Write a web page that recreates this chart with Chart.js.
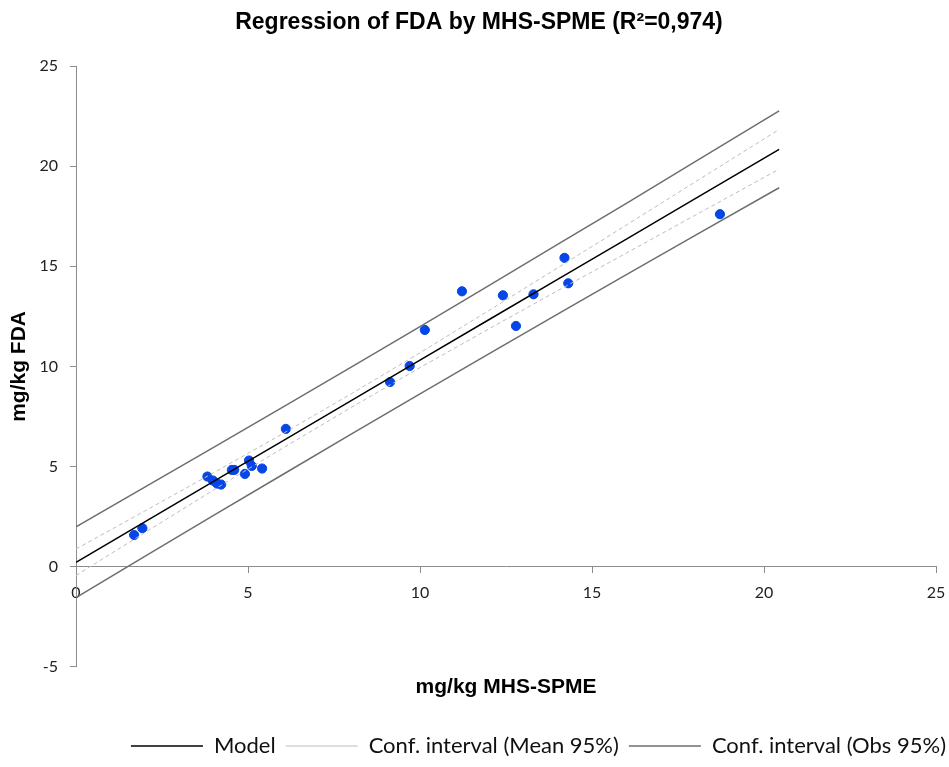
<!DOCTYPE html>
<html>
<head>
<meta charset="utf-8">
<script src="https://cdn.jsdelivr.net/npm/chart.js@4"></script>
<style>
  body { margin: 0; background: #fff; }
  #wrap { width: 949px; height: 767px; }
</style>
</head>
<body>
<div id="wrap"><canvas id="regChart"></canvas></div>
<script>
// observations (mg/kg MHS-SPME vs mg/kg FDA)
const obsX = [1.69, 1.93, 3.82, 3.98, 4.1, 4.22, 4.53, 4.6, 4.91, 5.03, 5.11, 5.41, 6.1,
              9.13, 9.7, 10.14, 11.22, 12.41, 12.79, 13.3, 14.2, 14.31, 18.72];
const obsY = [1.58, 1.92, 4.5, 4.3, 4.15, 4.1, 4.83, 4.83, 4.63, 5.3, 5.03, 4.9, 6.88,
              9.22, 10.02, 11.82, 13.75, 13.55, 12.02, 13.6, 15.42, 14.15, 17.6];

// model line and confidence bands, read at these x positions
const bandX   = [0, 2, 4, 6, 8, 10, 12, 14, 16, 18, 20.44];
const model   = [0.22, 2.24, 4.26, 6.27, 8.29, 10.31, 12.33, 14.35, 16.36, 18.38, 20.84];
const meanUp  = [0.88, 2.78, 4.69, 6.63, 8.63, 10.68, 12.79, 14.92, 17.06, 19.21, 21.83];
const meanLo  = [-0.44, 1.70, 3.83, 5.91, 7.95, 9.94, 11.87, 13.78, 15.66, 17.55, 19.85];
const obsUp   = [1.99, 3.97, 5.96, 7.95, 9.96, 11.99, 14.03, 16.09, 18.14, 20.22, 22.76];
const obsLo   = [-1.55, 0.51, 2.56, 4.59, 6.62, 8.63, 10.63, 12.61, 14.58, 16.54, 18.92];

const xTicks = [0, 5, 10, 15, 20, 25];
const yTicks = [-5, 0, 5, 10, 15, 20, 25];

const pts = (xs, ys) => xs.map((x, i) => ({ x: x, y: ys[i] }));

function lineSet(label, ys, color, width, dash, inLegend) {
    return {
        label: label,
        data: pts(bandX, ys),
        showLine: true,
        borderColor: color,
        backgroundColor: color,
        borderWidth: width,
        borderDash: dash,
        pointRadius: 0,
        pointHoverRadius: 0,
        tension: 0,
        inLegend: inLegend
    };
}

const tickFont = { family: 'Lato', size: 16 };
const axisGray = '#8c8c8c';

// nudge title and legend to the right like the original
const boxShift = {
    id: 'boxShift',
    afterLayout(chart) {
        chart.legend.left += 20;
        chart.legend.right += 20;
        chart.titleBlock.left += 11;
        chart.titleBlock.right += 11;
    }
};

const ctx = document.getElementById('regChart').getContext('2d');
const chart = new Chart(ctx, {
    type: 'scatter',
    plugins: [boxShift],
    data: {
        datasets: [
            lineSet('Model', model, '#000000', 1.5, [], true),
            lineSet('Conf. interval (Mean 95%)', meanUp, '#bdbdbd', 1, [4, 3], true),
            lineSet('Conf. interval (Mean 95%)', meanLo, '#bdbdbd', 1, [4, 3], false),
            lineSet('Conf. interval (Obs 95%)', obsUp, '#6e6e6e', 1.5, [], true),
            lineSet('Conf. interval (Obs 95%)', obsLo, '#6e6e6e', 1.5, [], false),
            {
                label: 'Observations',
                data: pts(obsX, obsY),
                backgroundColor: '#0646e6',
                borderColor: '#0646e6',
                pointRadius: 4.6,
                pointHoverRadius: 4.6,
                inLegend: false
            }
        ]
    },
    options: {
        responsive: true,
        maintainAspectRatio: false,
        animation: false,
        layout: { padding: { left: 0, right: 13, top: 0, bottom: 0 } },
        plugins: {
            tooltip: { enabled: false },
            title: {
                display: true,
                text: 'Regression of FDA by MHS-SPME (R²=0,974)',
                color: '#000',
                font: { family: 'Liberation Sans', size: 23, weight: 'bold' },
                padding: { top: 9, bottom: 29.4 }
            },
            legend: {
                position: 'bottom',
                align: 'end',
                labels: {
                    usePointStyle: true,
                    pointStyle: 'line',
                    pointStyleWidth: 72,
                    padding: 10,
                    color: '#111',
                    font: { family: 'Lato', size: 22 },
                    filter: (item, data) => data.datasets[item.datasetIndex].inLegend
                }
            }
        },
        scales: {
            x: {
                type: 'linear',
                position: { y: 0 },
                min: 0,
                max: 25,
                afterBuildTicks: s => { s.ticks = xTicks.map(v => ({ value: v })); },
                afterFit: s => { s.paddingLeft = 0; s.paddingRight = 0; },
                ticks: { color: '#222', font: tickFont, padding: 11, maxRotation: 0 },
                grid: { drawOnChartArea: false, color: axisGray, tickLength: 6 },
                border: { color: axisGray, width: 1 }
            },
            xTitle: {
                type: 'linear',
                position: 'bottom',
                min: 0,
                max: 25,
                ticks: { display: false },
                grid: { display: false },
                border: { display: false },
                title: {
                    display: true,
                    text: 'mg/kg MHS-SPME',
                    color: '#000',
                    font: { family: 'Liberation Sans', size: 21, weight: 'bold' },
                    padding: { top: 0, bottom: 25 }
                }
            },
            y: {
                type: 'linear',
                position: 'left',
                min: -5,
                max: 25,
                afterBuildTicks: s => { s.ticks = yTicks.map(v => ({ value: v })); },
                afterFit: s => { s.width = 76; },
                ticks: { color: '#222', font: tickFont, padding: 12 },
                grid: { drawOnChartArea: false, color: axisGray, tickLength: 6 },
                border: { color: axisGray, width: 1 },
                title: {
                    display: true,
                    text: 'mg/kg FDA',
                    color: '#000',
                    font: { family: 'Liberation Sans', size: 21, weight: 'bold' },
                    padding: { top: 7, bottom: 0 }
                }
            }
        }
    }
});
</script>
</body>
</html>
